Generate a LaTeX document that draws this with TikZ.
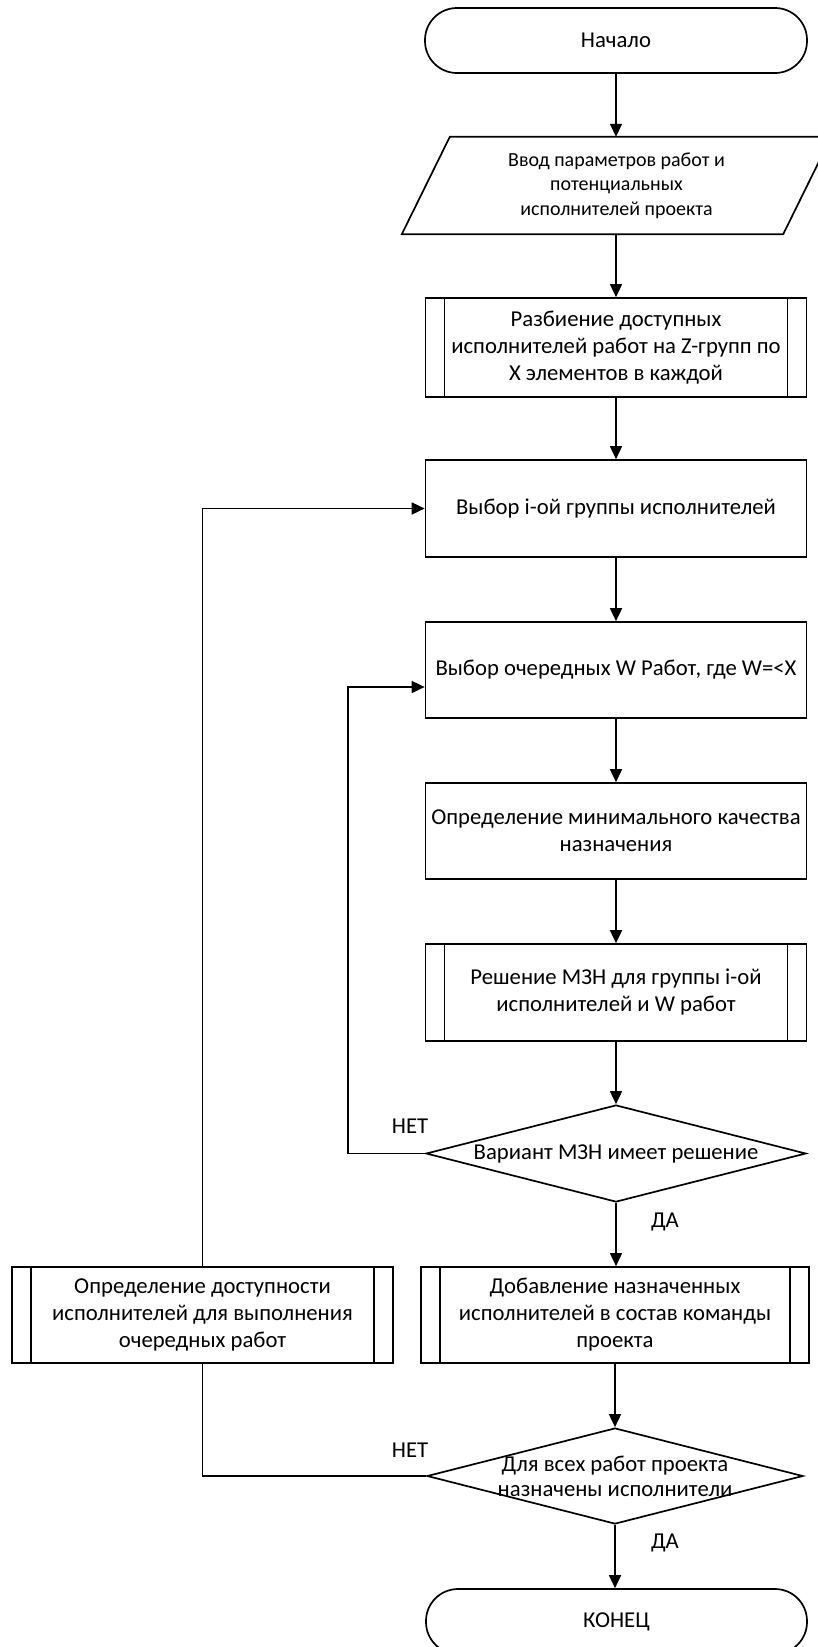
\documentclass[tikz,border=0pt]{standalone}
\usepackage{fontspec}
\setmainfont{Carlito}
\usetikzlibrary{shapes.geometric,arrows.meta,calc}
\begin{document}
\begin{tikzpicture}[x=1pt,y=-1pt,
  txt/.style={font=\fontsize{22.7}{27}\selectfont},
  ln/.style={line width=1.7pt, line join=miter},
  term/.style={ln, draw, rectangle, rounded corners=32pt, minimum width=382pt, minimum height=65pt, txt, align=center, inner sep=2pt},
  iobox/.style={rectangle, minimum width=429pt, minimum height=97pt, align=center, inner sep=2pt, font=\fontsize{20}{24.5}\selectfont},
  proc/.style={ln, draw, rectangle, minimum width=381pt, minimum height=97pt, txt, align=center, inner sep=1pt},
  subr/.style={proc, path picture={
      \draw[line width=1.7pt] ([xshift=19pt]path picture bounding box.north west) -- ([xshift=19pt]path picture bounding box.south west);
      \draw[line width=1.7pt] ([xshift=-19pt]path picture bounding box.north east) -- ([xshift=-19pt]path picture bounding box.south east);}},
  dec/.style={ln, draw, diamond, minimum width=378pt, minimum height=97pt, inner sep=0pt},
  arr/.style={ln, -{Triangle[length=13pt,width=12pt]}},
  lbl/.style={txt, inner sep=0pt}
]
\useasboundingbox (0,0) rectangle (818,1647);
\clip (0,0) rectangle (818,1647);
\fill[white] (0,0) rectangle (818,1647);

\node[term] (start) at (616,40.5) {Начало};
\node[iobox] (io) at (616.5,185.5) {Ввод параметров работ и\\потенциальных\\исполнителей проекта};
\draw[ln] (io.south west) -- ($(io.south east)+(-48,0)$) -- (io.north east) -- ($(io.north west)+(48,0)$) -- cycle;
\node[subr, minimum height=99pt] (split) at (616,347.5) {Разбиение доступных\\исполнителей работ на Z-групп по\\X элементов в каждой};
\node[proc] (selI) at (616,508.5) {Выбор i-ой группы исполнителей};
\node[proc, minimum height=96pt] (selW) at (616,670) {Выбор очередных W Работ, где W=<X};
\node[proc, minimum height=96pt] (minq) at (616,831) {Определение минимального качества\\назначения};
\node[subr] (solve) at (616,992.5) {Решение МЗН для группы i-ой\\исполнителей и W работ};
\node[dec, minimum width=380pt] (d1) at (616,1153.5) {};
\node[txt, inner sep=0pt] at (d1.center) {Вариант МЗН имеет решение};
\node[subr, minimum width=388pt, minimum height=96pt] (add) at (615,1315) {Добавление назначенных\\исполнителей в состав команды\\проекта};
\node[subr, minimum height=96pt] (avail) at (202.5,1315) {Определение доступности\\исполнителей для выполнения\\очередных работ};
\node[dec, minimum width=376pt, minimum height=96pt] (d2) at (615,1476) {};
\node[inner sep=0pt, align=center, font=\fontsize{22.7}{25}\selectfont] at (d2.center) {Для всех работ проекта\\назначены исполнители};
\node[term, minimum width=381pt] (end) at (616.5,1621.5) {КОНЕЦ};

\draw[arr] (start.south) -- (start.south |- io.north);
\draw[arr] (start.south |- io.south) -- (split.north);
\draw[arr] (split) -- (selI);
\draw[arr] (selI) -- (selW);
\draw[arr] (selW) -- (minq);
\draw[arr] (minq) -- (solve);
\draw[arr] (solve) -- (d1);
\draw[arr] (d1.south) -- (d1.south |- add.north);
\draw[arr] (d2.north |- add.south) -- (d2.north);
\draw[arr] (d2.south) -- (d2.south |- end.north);

\coordinate (innerloop) at (348,1153.5);
\draw[arr] (d1.west) -- (innerloop) |- ($(selW.west)+(0,17)$);
\draw[arr] (avail.north) |- (selI.west);
\draw[ln] (d2.west) -| (avail.south);

\node[lbl] at (410,1126) {НЕТ};
\node[lbl] at (410,1450) {НЕТ};
\node[lbl] at (665,1222) {ДА};
\node[lbl] at (665,1543) {ДА};
\end{tikzpicture}
\end{document}
